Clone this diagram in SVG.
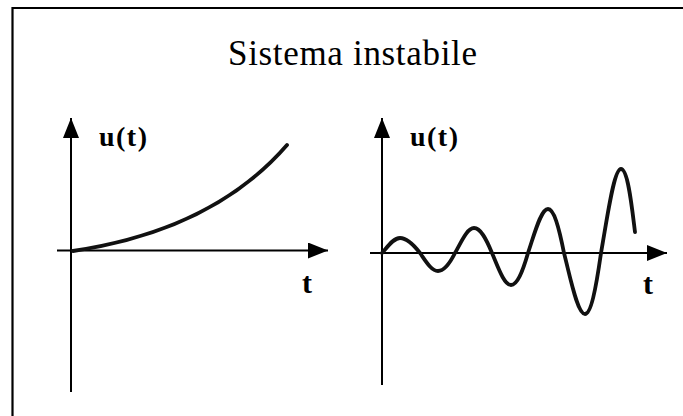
<svg xmlns="http://www.w3.org/2000/svg" width="683" height="416" viewBox="0 0 683 416">
  <style>
    .axis { stroke: #000; stroke-width: 2; fill: none; }
    .curve { stroke: #111; stroke-width: 3.8; fill: none; stroke-linecap: round; stroke-linejoin: round; }
    .lbl { font-family: "Liberation Serif", "Times New Roman", serif; font-weight: bold; fill: #000; }
    .title { font-family: "Liberation Serif", "Times New Roman", serif; font-size: 35px; fill: #000; }
  </style>
  <defs>
    <marker id="arrow" markerUnits="userSpaceOnUse" markerWidth="20" markerHeight="16" refX="20" refY="8" orient="auto" viewBox="0 0 20 16">
      <path d="M0,0 L20,8 L0,16 z" fill="#000"/>
    </marker>
  </defs>
  <rect width="683" height="416" fill="#fff"/>
  <g id="frame">
    <path d="M12.5,430 V8 H700" stroke="#000" stroke-width="2.2" fill="none"/>
  </g>
  <g id="title">
    <text class="title" x="228" y="65" textLength="249" lengthAdjust="spacing">Sistema instabile</text>
  </g>
  <g id="plot-left">
    <g class="connectors">
      <line class="axis" x1="71" y1="392" x2="71" y2="118" marker-end="url(#arrow)"/>
      <line class="axis" x1="57" y1="250.5" x2="328" y2="250.5" marker-end="url(#arrow)"/>
    </g>
    <path class="curve" d="M73,251 C160,238 235,205 287,145"/>
    <text class="lbl" x="99" y="146" font-size="28" textLength="48" lengthAdjust="spacing">u(t)</text>
    <text class="lbl" x="302" y="293" font-size="30">t</text>
  </g>
  <g id="plot-right">
    <g class="connectors">
      <line class="axis" x1="382" y1="385" x2="382" y2="118" marker-end="url(#arrow)"/>
      <line class="axis" x1="370" y1="253" x2="667" y2="253" marker-end="url(#arrow)"/>
    </g>
    <path class="curve" d="M382,253 C387.9,246.3 393.5,238 400,238 C407.2,238 413.5,244.6 420,253 C425.9,261.4 431.5,271 438,271 C444.2,271 449.5,263.9 455,253 C461.2,242.1 467.1,228 474,228 C480.5,228 486.1,238.5 492,253 C498.2,267.5 504.1,285 511,285 C517.2,285 522.5,272.2 528,253 C534.5,233.8 540.8,209 548,209 C553.8,209 558.8,226.5 564,253 C570.8,279.5 577.4,314 585,314 C590.8,314 595.8,289.7 601,253 C607.5,216.3 613.8,169 621,169 C628,169 632,208 635,232"/>
    <text class="lbl" x="410" y="146" font-size="28" textLength="48" lengthAdjust="spacing">u(t)</text>
    <text class="lbl" x="643" y="294" font-size="30">t</text>
  </g>
</svg>
